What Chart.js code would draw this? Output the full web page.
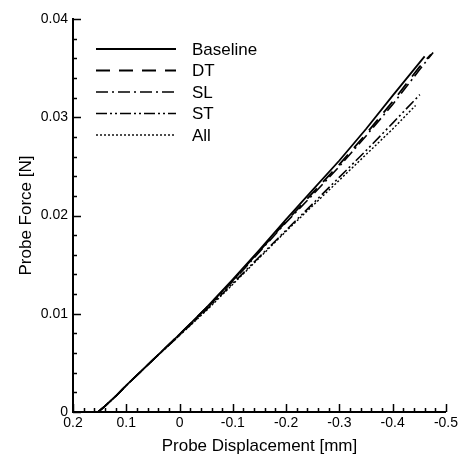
<!DOCTYPE html>
<html>
<head>
<meta charset="utf-8">
<script src="https://cdn.jsdelivr.net/npm/chart.js@4/dist/chart.umd.min.js"></script>
<style>
  html, body { margin: 0; padding: 0; background: #fff; }
  #wrap { width: 461px; height: 457px; }
</style>
</head>
<body>
<div id="wrap"><canvas id="forceChart" width="461" height="457"></canvas></div>
<script>
// probe displacement [mm] / probe force [N]
const baselineDisp = [0.153, 0.14, 0.12, 0.1, 0.05, 0, -0.05, -0.1, -0.15, -0.2, -0.25, -0.3, -0.35, -0.4, -0.46];
const baselineForce = [0, 0.0006, 0.0016, 0.0027, 0.0053, 0.0079, 0.0106, 0.0135, 0.0165, 0.0196, 0.0226, 0.0256, 0.0288, 0.0322, 0.0362];

const dtDisp = [0.153, 0.14, 0.12, 0.1, 0.05, 0, -0.05, -0.1, -0.15, -0.2, -0.25, -0.3, -0.35, -0.4, -0.45, -0.472];
const dtForce = [0, 0.0006, 0.0016, 0.0027, 0.0053, 0.0079, 0.0106, 0.0134, 0.0164, 0.0194, 0.0223, 0.0252, 0.0283, 0.0316, 0.0351, 0.0364];

const slDisp = [0.153, 0.14, 0.12, 0.1, 0.05, 0, -0.05, -0.1, -0.15, -0.2, -0.25, -0.3, -0.35, -0.4, -0.45, -0.476];
const slForce = [0, 0.0006, 0.0016, 0.0027, 0.0053, 0.0079, 0.0105, 0.0133, 0.0163, 0.0193, 0.0221, 0.0250, 0.0281, 0.0313, 0.0348, 0.0366];

const stDisp = [0.153, 0.14, 0.12, 0.1, 0.05, 0, -0.05, -0.1, -0.15, -0.2, -0.25, -0.3, -0.35, -0.4, -0.451];
const stForce = [0, 0.0006, 0.0016, 0.0027, 0.0053, 0.0078, 0.0104, 0.0131, 0.0158, 0.0185, 0.0212, 0.0239, 0.0266, 0.0294, 0.0323];

const allDisp = [0.153, 0.14, 0.12, 0.1, 0.05, 0, -0.05, -0.1, -0.15, -0.2, -0.25, -0.3, -0.35, -0.4, -0.443];
const allForce = [0, 0.0006, 0.0016, 0.0027, 0.0053, 0.0078, 0.0103, 0.0130, 0.0157, 0.0184, 0.0210, 0.0236, 0.0262, 0.0288, 0.0312];

const seriesLabels = ['Baseline', 'DT', 'SL', 'ST', 'All'];

const xTicks = [0.2, 0.1, 0, -0.1, -0.2, -0.3, -0.4, -0.5];
const yTicks = [0, 0.01, 0.02, 0.03, 0.04];

const FONT = '"Liberation Sans", Arial, Helvetica, sans-serif';

const toPoints = (xs, ys) => xs.map((x, i) => ({ x: x, y: ys[i] }));

const lineStyle = (label, xs, ys, dash, width) => ({
  label: label,
  data: toPoints(xs, ys),
  showLine: true,
  borderColor: '#000',
  backgroundColor: '#000',
  borderWidth: width,
  borderDash: dash,
  pointRadius: 0,
  tension: 0,
  fill: false
});

// tecplot-ish inward ticks, majors + 4 minors between
const inwardTicks = {
  id: 'inwardTicks',
  afterDraw(chart) {
    const ctx = chart.ctx;
    const xs = chart.scales.x, ys = chart.scales.y;
    const bottom = chart.chartArea.bottom, left = chart.chartArea.left;
    ctx.save();
    ctx.strokeStyle = '#000';
    ctx.lineWidth = 1.5;
    ctx.beginPath();
    for (let i = 0; i < xTicks.length - 1; i++) {
      const step = (xTicks[i + 1] - xTicks[i]) / 5;
      for (let k = 0; k <= 5; k++) {
        if (k === 5 && i < xTicks.length - 2) continue;
        const px = Math.round(xs.getPixelForValue(xTicks[i] + k * step)) + 0.5;
        const len = (k === 0 || k === 5) ? 8 : 4;
        ctx.moveTo(px, bottom);
        ctx.lineTo(px, bottom - len);
      }
    }
    for (let i = 0; i < yTicks.length - 1; i++) {
      const step = (yTicks[i + 1] - yTicks[i]) / 5;
      for (let k = 0; k <= 5; k++) {
        if (k === 5 && i < yTicks.length - 2) continue;
        const py = Math.round(ys.getPixelForValue(yTicks[i] + k * step)) + 0.5;
        const len = (k === 0 || k === 5) ? 8 : 4;
        ctx.moveTo(left, py);
        ctx.lineTo(left + len, py);
      }
    }
    ctx.stroke();
    ctx.restore();
  }
};

// legend in the upper left of the plot, like the original
const lineLegend = {
  id: 'lineLegend',
  afterDraw(chart) {
    const ctx = chart.ctx;
    const x0 = 96, x1 = 176, tx = 192;
    const rows = [49, 70.5, 92, 113.5, 135];
    ctx.save();
    ctx.font = '17px ' + FONT;
    ctx.textBaseline = 'middle';
    ctx.fillStyle = '#000';
    chart.data.datasets.forEach((ds, i) => {
      const y = rows[i];
      ctx.strokeStyle = '#000';
      ctx.lineWidth = ds.borderWidth;
      ctx.setLineDash(ds.borderDash || []);
      ctx.beginPath();
      ctx.moveTo(x0, y);
      ctx.lineTo(x1, y);
      ctx.stroke();
      ctx.setLineDash([]);
      ctx.fillText(ds.label, tx, y + 1);
    });
    ctx.restore();
  }
};

const fmt = v => {
  const n = Math.round(v * 1000) / 1000;
  return n === 0 ? '0' : String(n);
};

new Chart(document.getElementById('forceChart'), {
  type: 'scatter',
  data: {
    datasets: [
      lineStyle(seriesLabels[0], baselineDisp, baselineForce, [], 1.8),
      lineStyle(seriesLabels[1], dtDisp, dtForce, [14, 9], 1.8),
      lineStyle(seriesLabels[2], slDisp, slForce, [12, 4, 2, 4], 1.6),
      lineStyle(seriesLabels[3], stDisp, stForce, [11, 3, 2, 3, 2, 3], 1.6),
      lineStyle(seriesLabels[4], allDisp, allForce, [2, 2], 1.4)
    ]
  },
  options: {
    responsive: false,
    animation: false,
    layout: { padding: { left: 16, top: 19, right: 12, bottom: 0 } },
    plugins: {
      legend: { display: false },
      tooltip: { enabled: false }
    },
    scales: {
      x: {
        type: 'linear',
        reverse: true,
        min: -0.5,
        max: 0.2,
        afterBuildTicks: s => { s.ticks = xTicks.map(v => ({ value: v })); },
        afterFit: s => { s.height = 45; },
        grid: { drawOnChartArea: false, drawTicks: false },
        border: { color: '#000', width: 2 },
        ticks: {
          color: '#000',
          font: { family: FONT, size: 14 },
          padding: 3,
          maxRotation: 0,
          autoSkip: false,
          callback: v => fmt(v)
        },
        title: {
          display: true,
          text: 'Probe Displacement [mm]',
          color: '#000',
          font: { family: FONT, size: 17 },
          padding: { top: 0, bottom: 0 }
        }
      },
      y: {
        type: 'linear',
        min: 0,
        max: 0.04,
        afterBuildTicks: s => { s.ticks = yTicks.map(v => ({ value: v })); },
        afterFit: s => { s.width = 57; },
        grid: { drawOnChartArea: false, drawTicks: false },
        border: { color: '#000', width: 2 },
        ticks: {
          color: '#000',
          font: { family: FONT, size: 14 },
          padding: 5,
          autoSkip: false,
          callback: v => fmt(v)
        },
        title: {
          display: true,
          text: 'Probe Force [N]',
          color: '#000',
          font: { family: FONT, size: 17 },
          padding: { top: 0, bottom: 0 }
        }
      }
    }
  },
  plugins: [inwardTicks, lineLegend]
});
</script>
</body>
</html>
